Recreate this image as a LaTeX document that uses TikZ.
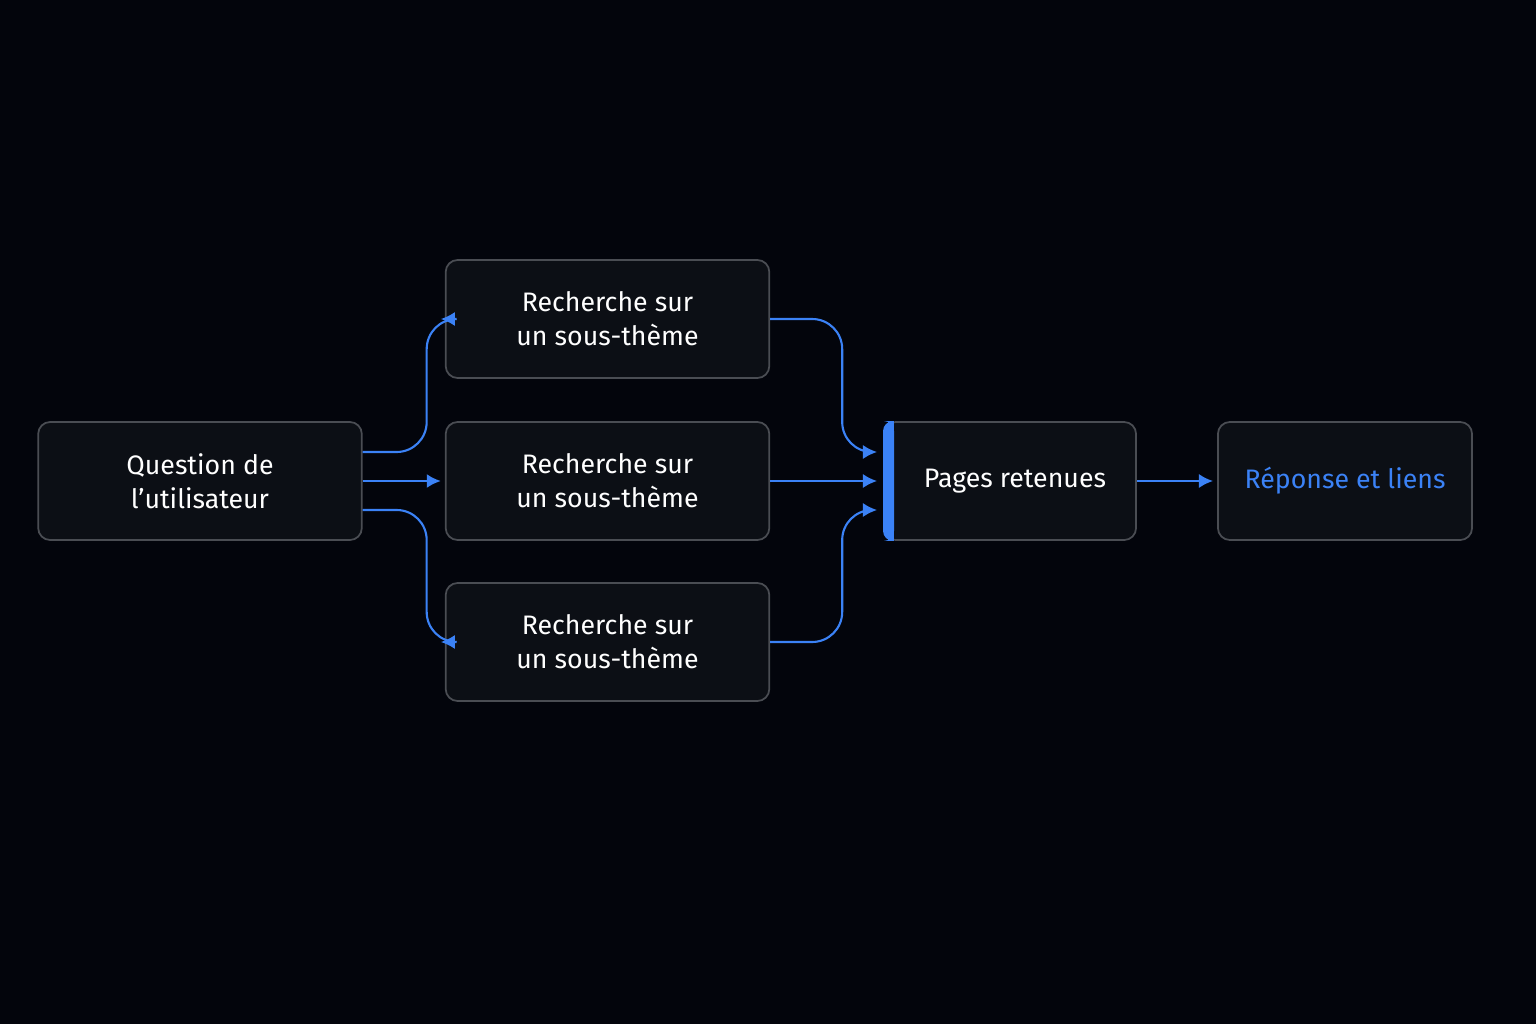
\documentclass[tikz,border=0pt]{standalone}
\usepackage{fontspec}
\setmainfont{Fira Sans}
\usetikzlibrary{arrows.meta,positioning,calc}
\definecolor{bgdark}{HTML}{03050C}
\definecolor{boxfill}{HTML}{0C0F15}
\definecolor{boxline}{HTML}{4A4D53}
\definecolor{flowblue}{HTML}{3B82F6}
\newcommand{\twoline}[2]{\parbox{3cm}{\centering #1\\#2}}
\begin{document}
\begin{tikzpicture}
[x=0.01cm,y=-0.01cm,
block/.style={draw=boxline,fill=boxfill,rounded corners=0.12cm,line width=.5pt,
  minimum height=1.18cm,text=white,font=\fontsize{7.6}{9.7}\selectfont,align=center},
edge/.style={flowblue,line width=.6pt,-{Latex[length=4pt,width=4pt]},rounded corners=0.3cm}]
%%
\fill[bgdark] (0,0) rectangle (1536,1024);
\useasboundingbox (0,0) rectangle (1536,1024);
%%
\node (q) [block,minimum width=2.68cm] at (200,481) {\twoline{Question de}{l’utilisateur}};
\node (r1) [block,minimum width=2.71cm] at (607.5,319) {\twoline{Recherche sur}{un sous-thème}};
\node (r2) [block,minimum width=2.71cm] at (607.5,481) {\twoline{Recherche sur}{un sous-thème}};
\node (r3) [block,minimum width=2.71cm] at (607.5,642) {\twoline{Recherche sur}{un sous-thème}};
\node (p) [block,minimum width=2.52cm] at (1010,481) {\hspace{.1cm}Pages retenues};
\node (a) [block,minimum width=2.54cm,text=flowblue] at (1345,481) {Réponse et liens};
%% blue bar on the left side of p
\fill[flowblue,rounded corners=0.1cm] (p.north west) rectangle ($(p.south west)+(11,0)$);
\fill[flowblue] ($(p.north west)+(6,0)$) rectangle ($(p.south west)+(11,0)$);
%%
\draw[edge] ($(q.east)+(0,-29)$) -- ++(64,0) |- ($(r1.west)+(-4,0)$);
\draw[edge] (q.east) -- ($(r2.west)+(-4,0)$);
\draw[edge] ($(q.east)+(0,29)$) -- ++(64,0) |- ($(r3.west)+(-4,0)$);
\draw[edge] (r1.east) -- ++(72,0) |- ($(p.west)+(-6,-29)$);
\draw[edge] (r2.east) -- ($(p.west)+(-6,0)$);
\draw[edge] (r3.east) -- ++(72,0) |- ($(p.west)+(-6,29)$);
\draw[edge] (p.east) -- ($(a.west)+(-4,0)$);
\end{tikzpicture}
\end{document}
